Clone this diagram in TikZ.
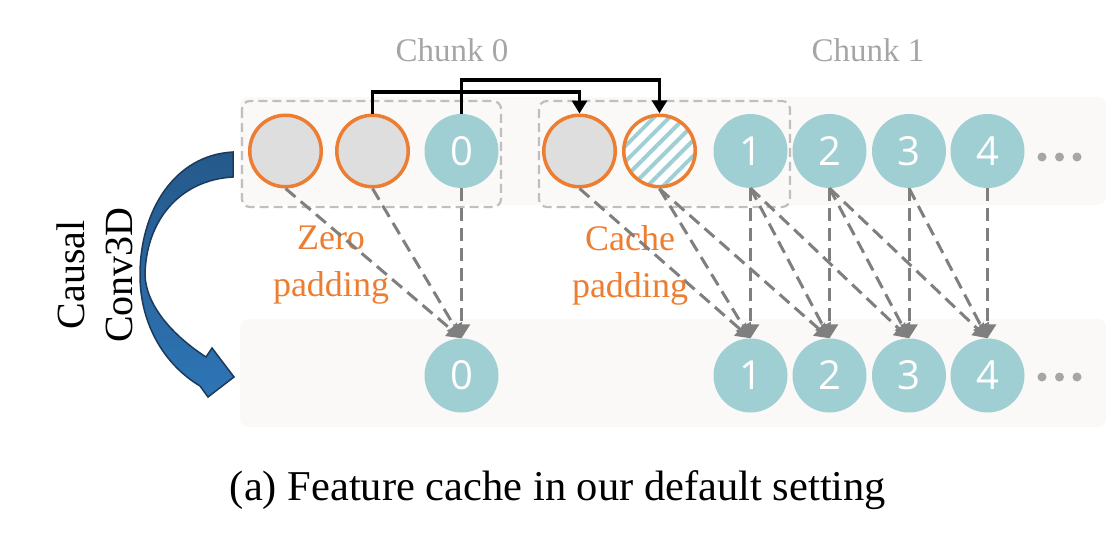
\documentclass[tikz,border=0pt]{standalone}
\usepackage{fontspec}
\setmainfont{Liberation Serif}
\newfontfamily\digitfont{Open Sans}
\usetikzlibrary{arrows.meta,patterns.meta,calc}
\definecolor{featteal}{HTML}{9FCFD3}
\definecolor{padorange}{HTML}{ED7D31}
\definecolor{padgray}{HTML}{DEDEDE}
\definecolor{bandgray}{HTML}{FAF9F7}
\definecolor{boxgray}{HTML}{BFBFBF}
\definecolor{chunkgray}{HTML}{A6A6A6}
\definecolor{linegray}{HTML}{7F7F7F}
\definecolor{arrowdark}{HTML}{25598A}
\definecolor{arrowlight}{HTML}{2E75B6}
\definecolor{arrowedge}{HTML}{1B3A5C}
\tikzset{
  feat/.style={circle, fill=featteal, minimum size=74pt, inner sep=0pt, text=white,
    font=\digitfont\fontsize{40}{42}\selectfont},
  padc/.style={circle, draw=padorange, line width=3.5pt, fill=padgray, minimum size=71.5pt, inner sep=0pt},
  hatc/.style={circle, draw=padorange, line width=3.5pt, minimum size=71.5pt, inner sep=0pt,
    preaction={fill=white},
    pattern={Lines[angle=45,distance=11pt,line width=4pt]}, pattern color=featteal},
  band/.style={fill=bandgray, rounded corners=8pt},
  chunkbox/.style={draw=boxgray, line width=2.2pt, dash pattern=on 9pt off 5pt, rounded corners=8pt},
  conv/.style={draw=linegray, line width=3pt, dash pattern=on 13pt off 7pt,
    -{Triangle[length=14pt,width=17pt]}},
  cachearrow/.style={draw=black, line width=3.5pt, -{Triangle[length=13pt,width=15pt]}},
  chunklabel/.style={text=chunkgray, font=\fontsize{33}{36}\selectfont},
  padlabel/.style={text=padorange, align=center, font=\fontsize{36}{47}\selectfont},
}
\begin{document}
\begin{tikzpicture}[x=1pt,y=-1pt]
\useasboundingbox (0,0) rectangle (1117,538);
% background bands
\fill[band] (240,97) rectangle (1106,205);
\fill[band] (240,319) rectangle (1106,427);
% chunk boxes
\draw[chunkbox] (242,101) rectangle (501,207);
\draw[chunkbox] (539,101) rectangle (790,207);
% labels
\node[chunklabel] (ch0) at (452,50) {Chunk 0};
\node[chunklabel] (ch1) at (868,50) {Chunk 1};
% top row
\node[padc] (p1) at (285.5,151) {};
\node[padc] (p2) at (372.5,151) {};
\node[feat] (t0) at (461.5,151) {0};
\node[padc] (cg) at (579.5,151) {};
\node[hatc] (ch) at (659.5,151) {};
\node[feat] (t1) at (750.5,151) {1};
\node[feat] (t2) at (829.5,151) {2};
\node[feat] (t3) at (909,151) {3};
\node[feat] (t4) at (987.5,151) {4};
% bottom row
\node[feat] (b0) at (461.5,375.5) {0};
\node[feat] (b1) at (750.5,375.5) {1};
\node[feat] (b2) at (829.5,375.5) {2};
\node[feat] (b3) at (909,375.5) {3};
\node[feat] (b4) at (987.5,375.5) {4};
% dots
\foreach \xx in {1042,1059.5,1077}{
  \fill[chunkgray] (\xx,157) circle (4.5pt);
  \fill[chunkgray] (\xx,377) circle (4.5pt);
}
% padding labels
\node[padlabel] (zp) at (331,265) {Zero\\padding};
\node[padlabel] (cp) at (630,265) {Cache\\padding};
% convolution connectors
\foreach \s/\t in {p1/b0,p2/b0,t0/b0,cg/b1,ch/b1,t1/b1,ch/b2,t1/b2,t2/b2,t1/b3,t2/b3,t3/b3,t2/b4,t3/b4,t4/b4}{
  \draw[conv] (\s.south) -- (\t.north);
}
% cache arrows
\coordinate (k1) at (0,92);
\coordinate (k2) at (0,80);
\draw[cachearrow] (p2.north) -- (p2.north |- k1) -| (cg.north);
\draw[cachearrow] (t0.north) -- (t0.north |- k2) -| (ch.north);
% curved blue arrow
\draw[arrowedge, line width=1.5pt, top color=arrowdark, bottom color=arrowlight]
  (233,152) .. controls (175,155) and (140,210) .. (140,275)
  .. controls (140,325) and (165,365) .. (200,386)
  -- (208,397) -- (234,377) -- (212,348) -- (206,357)
  .. controls (172,335) and (146,305) .. (145,275)
  .. controls (146,220) and (180,180) .. (233,177) -- cycle;
\node[rotate=90, align=center, font=\fontsize{40}{48}\selectfont] (cc) at (95,275) {Causal\\Conv3D};
% caption
\node[font=\fontsize{42.5}{46}\selectfont] (cap) at (558,490) {(a) Feature cache in our default setting};
\end{tikzpicture}
\end{document}
